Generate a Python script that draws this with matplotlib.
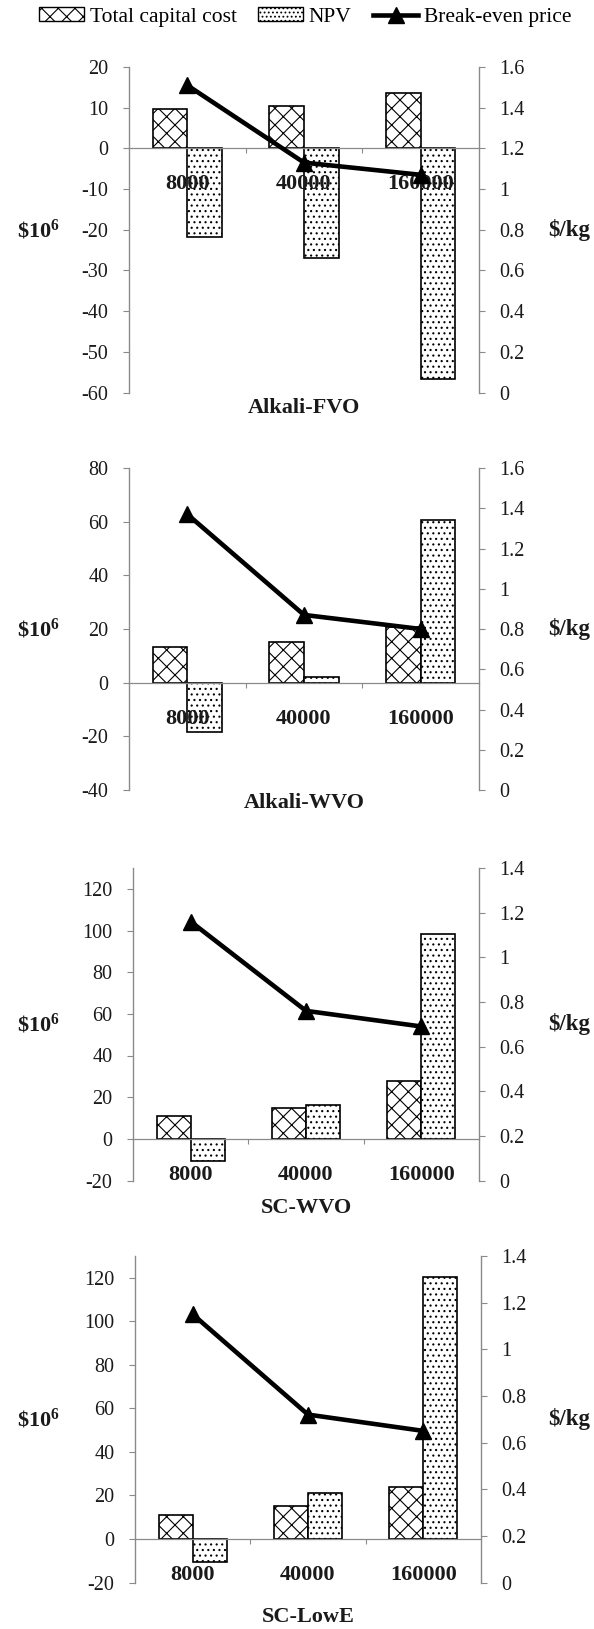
import matplotlib
matplotlib.use("Agg")
import matplotlib.pyplot as plt
from matplotlib.patches import Patch
from matplotlib.lines import Line2D
from matplotlib.ticker import FuncFormatter

# plant capacities on the category axis
categories = ["8000", "40000", "160000"]

# Alkali-FVO
capital_fvo = [9.7, 10.5, 13.7]
npv_fvo = [-21.7, -27.0, -56.6]
price_fvo = [1.51, 1.13, 1.07]

# Alkali-WVO
capital_wvo = [13.3, 15.1, 20.9]
npv_wvo = [-18.2, 2.0, 60.7]
price_wvo = [1.37, 0.87, 0.80]

# SC-WVO
capital_scwvo = [10.9, 14.9, 27.7]
npv_scwvo = [-10.4, 16.3, 98.5]
price_scwvo = [1.16, 0.76, 0.69]

# SC-LowE
capital_lowe = [11.2, 15.0, 23.8]
npv_lowe = [-10.7, 21.2, 120.2]
price_lowe = [1.15, 0.72, 0.65]

plt.rcParams["font.family"] = ["Liberation Serif", "DejaVu Serif"]
plt.rcParams["axes.unicode_minus"] = False
plt.rcParams["hatch.linewidth"] = 0.8
plt.rcParams["mathtext.fontset"] = "custom"
plt.rcParams["mathtext.rm"] = "Liberation Serif:bold"
plt.rcParams["mathtext.it"] = "Liberation Serif:bold"
plt.rcParams["mathtext.bf"] = "Liberation Serif:bold"

W, H = 594, 1629
GRAY = "#8a8a8a"
fig = plt.figure(figsize=(W / 100, H / 100), dpi=100)


def rect_px(left, right, top, bottom):
    return [left / W, 1 - bottom / H, (right - left) / W, (bottom - top) / H]


def fmt(v, pos):
    return f"{v:g}"


def draw_panel(rect, capital, npv, price, ylim, yticks, ylim2, yticks2, title, title_y):
    ax = fig.add_axes(rect)
    x = list(range(len(categories)))
    w = 0.296
    ax.bar([i - w / 2 for i in x], capital, w, facecolor="white", edgecolor="black",
           hatch="xx", lw=1.2, zorder=2)
    ax.bar([i + w / 2 for i in x], npv, w, facecolor="white", edgecolor="black",
           hatch="...", lw=1.2, zorder=2)
    ax.set_xlim(-0.5, 2.5)
    ax.set_ylim(*ylim)
    ax.set_yticks(yticks)
    ax.yaxis.set_major_formatter(FuncFormatter(fmt))

    for s in ["top", "right"]:
        ax.spines[s].set_visible(False)
    ax.spines["left"].set_color(GRAY)
    ax.spines["left"].set_linewidth(1.0)
    ax.spines["bottom"].set_position(("data", 0))
    ax.spines["bottom"].set_color(GRAY)
    ax.spines["bottom"].set_linewidth(0.9)

    ax.set_xticks([0.5, 1.5])
    ax.tick_params(axis="x", direction="out", length=3.6, width=0.8, color=GRAY,
                   labelbottom=False)
    ax.tick_params(axis="y", direction="out", length=4.5, width=0.8, color=GRAY,
                   pad=10.4, labelsize=14.5, labelcolor="#1a1a1a")

    for i, c in enumerate(categories):
        ax.annotate(c, xy=(i, 0), xytext=(0, -29.5), textcoords="offset points",
                    ha="center", va="baseline", fontsize=16, fontweight="bold",
                    color="#1a1a1a", zorder=4)

    ax2 = ax.twinx()
    ax2.plot(x, price, color="black", lw=3.3, marker="^", ms=11, zorder=5)
    ax2.set_ylim(*ylim2)
    ax2.set_yticks(yticks2)
    ax2.yaxis.set_major_formatter(FuncFormatter(fmt))
    for s in ["top", "left", "bottom"]:
        ax2.spines[s].set_visible(False)
    ax2.spines["right"].set_color(GRAY)
    ax2.spines["right"].set_linewidth(1.0)
    ax2.tick_params(axis="y", direction="out", length=4.5, width=0.8, color=GRAY,
                    pad=10.4, labelsize=14.5, labelcolor="#1a1a1a")

    yc = H * (1 - (rect[1] + rect[3] / 2))
    fig.text(38 / W, 1 - yc / H, r"\$$10^{6}$", ha="center", va="center",
             fontsize=16, fontweight="bold", color="#1a1a1a")
    fig.text(569 / W, 1 - yc / H, "$/kg", ha="center", va="center",
             fontsize=16.5, fontweight="bold", color="#1a1a1a")
    x_mid = rect[0] + rect[2] / 2
    fig.text(x_mid, 1 - title_y / H, title, ha="center", va="center",
             fontsize=16, fontweight="bold", color="#1a1a1a")


price_ticks_16 = [0, 0.2, 0.4, 0.6, 0.8, 1.0, 1.2, 1.4, 1.6]
price_ticks_14 = [0, 0.2, 0.4, 0.6, 0.8, 1.0, 1.2, 1.4]

draw_panel(rect_px(129, 479, 67, 392.5), capital_fvo, npv_fvo, price_fvo,
           (-60, 20), list(range(-60, 21, 10)), (0, 1.6), price_ticks_16,
           "Alkali-FVO", 408)
draw_panel(rect_px(129, 479, 468, 790), capital_wvo, npv_wvo, price_wvo,
           (-40, 80), list(range(-40, 81, 20)), (0, 1.6), price_ticks_16,
           "Alkali-WVO", 803)
draw_panel(rect_px(133, 479, 868, 1180.5), capital_scwvo, npv_scwvo, price_scwvo,
           (-20, 130), list(range(-20, 121, 20)), (0, 1.4), price_ticks_14,
           "SC-WVO", 1208)
draw_panel(rect_px(135, 481, 1256, 1582.5), capital_lowe, npv_lowe, price_lowe,
           (-20, 130), list(range(-20, 121, 20)), (0, 1.4), price_ticks_14,
           "SC-LowE", 1617)

handles = [
    Patch(facecolor="white", edgecolor="black", hatch="xx", lw=1.0),
    Patch(facecolor="white", edgecolor="black", hatch="....", lw=1.0),
    Line2D([], [], color="black", lw=3.3, marker="^", ms=11),
]
labels = ["Total capital cost", "NPV", "Break-even price"]
fig.legend(handles, labels, loc="center", bbox_to_anchor=(305 / W, 1 - 17 / H),
           ncol=3, frameon=False, fontsize=15.5, handlelength=2.1, handleheight=0.65,
           handletextpad=0.25, columnspacing=1.0, borderpad=0)

fig.savefig("out.png", dpi=100)
